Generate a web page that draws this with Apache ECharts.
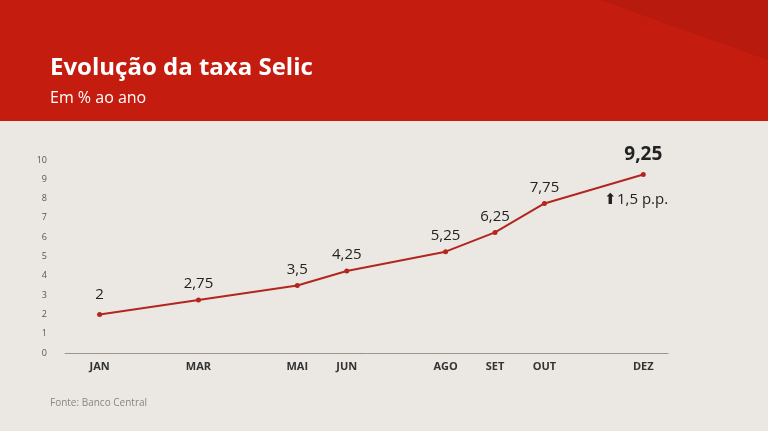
<!DOCTYPE html>
<html>
<head>
<meta charset="utf-8">
<script src="https://cdn.jsdelivr.net/npm/echarts@6/dist/echarts.min.js"></script>
<style>
html, body { margin: 0; padding: 0; }
#chart { width: 768px; height: 431px; }
</style>
</head>
<body>
<div id="chart"></div>
<script>
// meses (número do mês) e taxa Selic
var months = [1, 3, 5, 6, 8, 9, 10, 12]
var monthNames = {1: 'JAN', 3: 'MAR', 5: 'MAI', 6: 'JUN', 8: 'AGO', 9: 'SET', 10: 'OUT', 12: 'DEZ'}
var selic = [2, 2.75, 3.5, 4.25, 5.25, 6.25, 7.75, 9.25]
var yTicks = [0, 10, 1]

var chart = echarts.init(document.getElementById('chart'))

var points = months.map(function(m, i) { return [m, selic[i]] })

chart.setOption({
    backgroundColor: '#ebe8e3',
    textStyle: { fontFamily: 'Open Sans' },
    graphic: [
        { type: 'rect', shape: { x: 0, y: 0, width: 768, height: 121 }, style: { fill: '#c41d0f' }, z: 0 },
        { type: 'polygon', shape: { points: [[430, 0], [768, 0], [768, 60], [600, 0]] }, style: { fill: '#b81a0d' }, z: 0 },
        { type: 'text', left: 50, top: 56, style: { text: 'Evolução da taxa Selic', fill: '#fff', font: 'bold 24px "Open Sans"' } },
        { type: 'text', left: 50, top: 90, style: { text: 'Em % ao ano', fill: '#fff', font: '16px "Open Sans"' } },
        { type: 'text', left: 50, top: 398, style: { text: 'Fonte: Banco Central', fill: '#8a8580', font: '10px "Open Sans"' } },
        { type: 'text', left: 604, top: 192, style: { text: '⬆1,5 p.p.', fill: '#222', font: '15px "Open Sans"' } }
    ],
    grid: { left: 65, right: 100, top: 160, bottom: 78 },
    xAxis: {
        type: 'value',
        min: 0.3,
        max: 12.5,
        splitLine: { show: false },
        axisTick: { show: false },
        axisLine: { lineStyle: { color: '#9a9590' } },
        axisLabel: {
            customValues: months,
            color: '#333',
            fontSize: 11,
            fontWeight: 'bold',
            margin: 8,
            formatter: function(v) { return monthNames[Math.round(v)] || '' }
        }
    },
    yAxis: {
        type: 'value',
        min: yTicks[0],
        max: yTicks[1],
        interval: yTicks[2],
        splitLine: { show: false },
        axisLine: { show: false },
        axisTick: { show: false },
        axisLabel: { color: '#555', fontSize: 9, margin: 18 }
    },
    series: [{
        type: 'line',
        symbol: 'circle',
        symbolSize: 5,
        lineStyle: { color: '#b3261e', width: 2 },
        itemStyle: { color: '#b3261e' },
        label: {
            show: true,
            position: 'top',
            distance: 6,
            color: '#222',
            fontSize: 15,
            formatter: function(p) { return String(p.value[1]).replace('.', ',') }
        },
        data: points.map(function(pt, i) {
            if (i === 7) return { value: pt, label: { fontSize: 19, fontWeight: 'bold', distance: 8 } }
            if (i === 0) return { value: pt, label: { distance: 10 } }
            return pt
        })
    }]
})
</script>
</body>
</html>
